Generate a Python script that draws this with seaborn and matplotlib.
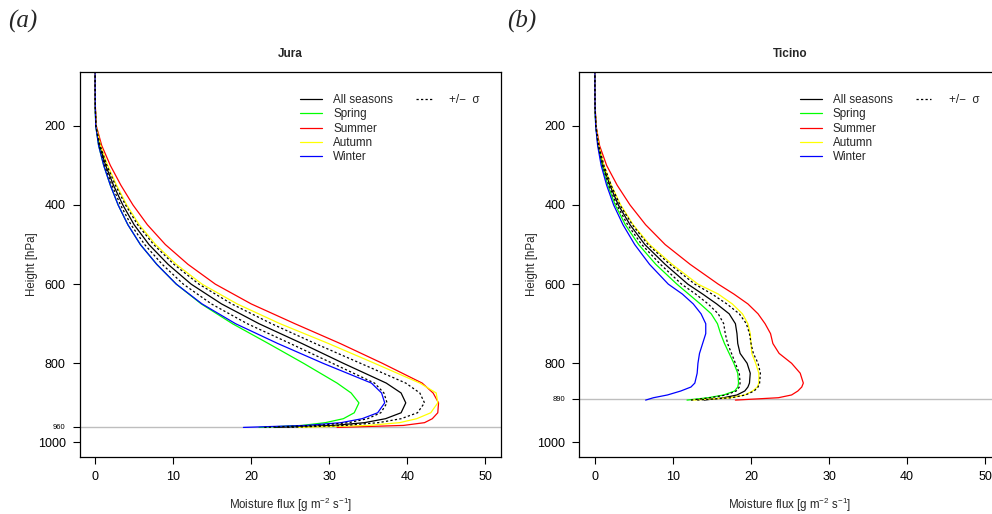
import matplotlib
matplotlib.use('Agg')
import matplotlib.pyplot as plt
from matplotlib.lines import Line2D
import seaborn as sns

# pressure levels [hPa]
jura_p = [50, 100, 150, 200, 250, 300, 350, 400, 450, 500, 550, 600, 650, 700,
          750, 800, 850, 875, 900, 925, 940, 950, 957, 962]
jura_all = [0, 0, 0.02, 0.1, 0.58, 1.35, 2.35, 3.55, 5.0, 6.9, 9.35, 12.3, 16.2, 21.0,
            26.5, 31.8, 37.3, 39.2, 39.8, 39.2, 37.2, 34.5, 30.5, 23.0]
jura_lo = [0, 0, 0.02, 0.09, 0.52, 1.22, 2.15, 3.25, 4.6, 6.35, 8.6, 11.3, 14.9, 19.5,
           25.0, 30.4, 35.8, 37.0, 37.4, 36.6, 34.9, 32.5, 28.5, 21.5]
jura_hi = [0, 0, 0.02, 0.11, 0.65, 1.5, 2.6, 3.9, 5.45, 7.5, 10.1, 13.3, 17.5, 22.6,
           28.2, 34.0, 39.8, 41.6, 42.2, 41.3, 39.2, 36.3, 32.0, 24.5]
jura_spring = [0, 0, 0.02, 0.08, 0.45, 1.1, 1.95, 2.95, 4.2, 5.8, 7.9, 10.4, 13.6, 17.6,
               22.2, 26.7, 31.0, 32.8, 33.8, 33.2, 31.8, 29.5, 26.5, 21.0]
jura_summer = [0, 0, 0.03, 0.15, 0.85, 1.95, 3.3, 4.85, 6.7, 9.0, 11.9, 15.4, 20.0, 25.6,
               31.4, 36.8, 41.9, 43.3, 44.0, 43.9, 43.2, 42.2, 39.5, 31.0]
jura_autumn = [0, 0, 0.02, 0.12, 0.7, 1.6, 2.75, 4.05, 5.65, 7.75, 10.4, 13.7, 18.2, 23.7,
               29.9, 35.8, 41.6, 43.7, 43.9, 43.0, 41.2, 39.0, 35.0, 26.0]
jura_winter = [0, 0, 0.02, 0.08, 0.45, 1.1, 1.95, 2.95, 4.2, 5.8, 7.9, 10.4, 13.7, 18.0,
               23.4, 29.2, 35.4, 36.7, 37.1, 36.2, 34.2, 31.5, 27.0, 19.0]

ticino_p = [50, 100, 150, 200, 250, 300, 350, 400, 450, 500, 550, 600, 625, 650,
            675, 700, 725, 750, 775, 800, 825, 850, 860, 870, 880, 887, 893]
ticino_all = [0, 0, 0.02, 0.12, 0.45, 1.05, 1.92, 3.0, 4.5, 6.4, 9.0, 11.9, 13.8, 15.6,
              17.2, 18.0, 18.2, 18.3, 18.6, 19.5, 19.9, 19.8, 19.6, 19.2, 18.2, 16.5, 14.0]
ticino_lo = [0, 0, 0.02, 0.11, 0.42, 0.98, 1.78, 2.8, 4.2, 6.0, 8.4, 11.1, 12.9, 14.5,
             15.8, 16.5, 16.7, 17.0, 17.5, 18.0, 18.5, 18.6, 18.5, 18.1, 16.8, 14.8, 12.3]
ticino_hi = [0, 0, 0.02, 0.13, 0.5, 1.15, 2.08, 3.2, 4.8, 6.8, 9.6, 12.8, 15.0, 16.9,
             18.5, 19.4, 19.8, 20.0, 20.3, 20.9, 21.2, 21.1, 20.9, 20.4, 19.3, 17.5, 13.0]
ticino_spring = [0, 0, 0.02, 0.1, 0.4, 0.9, 1.65, 2.6, 3.9, 5.6, 7.8, 10.5, 12.0, 13.5,
                 14.9, 15.7, 16.1, 16.6, 17.2, 17.8, 18.3, 18.4, 18.3, 17.9, 16.5, 14.5, 11.8]
ticino_summer = [0, 0, 0.03, 0.15, 0.6, 1.5, 2.85, 4.5, 6.5, 9.0, 12.2, 15.8, 17.8, 19.6,
                 20.9, 21.8, 22.5, 22.8, 23.6, 25.2, 26.3, 26.7, 26.5, 26.0, 25.2, 23.5, 18.0]
ticino_autumn = [0, 0, 0.02, 0.13, 0.5, 1.15, 2.1, 3.3, 4.9, 7.0, 9.9, 13.2, 15.8, 17.6,
                 18.9, 19.6, 19.9, 20.0, 20.1, 20.6, 21.0, 21.0, 20.8, 20.2, 19.2, 17.4, 12.5]
ticino_winter = [0, 0, 0.02, 0.1, 0.35, 0.8, 1.5, 2.4, 3.6, 5.1, 7.0, 9.4, 11.2, 12.6,
                 13.6, 14.2, 14.2, 13.8, 13.4, 13.2, 13.1, 12.8, 12.3, 11.0, 9.3, 7.5, 6.5]

season_names = ['All seasons', 'Spring', 'Summer', 'Autumn', 'Winter']
season_colors = ['black', '#00FF00', '#FF0000', '#FFFF00', '#0000FF']
sigma_label = '+/\u2212  \u03c3'

sns.set_style('ticks')
plt.rcParams['font.family'] = ['Liberation Sans', 'DejaVu Sans']
plt.rcParams['mathtext.fontset'] = 'custom'
plt.rcParams['mathtext.rm'] = 'Liberation Sans'
plt.rcParams['mathtext.it'] = 'Liberation Sans:italic'

W, H = 992, 514
DASH = (0, (1.8, 1.8))
fig = plt.figure(figsize=(W / 100, H / 100), dpi=100)
ax_w, ax_h = 421.5 / W, 384.7 / H
ax_a = fig.add_axes([79.5 / W, 1 - 456.7 / H, ax_w, ax_h])
ax_b = fig.add_axes([579.3 / W, 1 - 456.7 / H, ax_w, ax_h])


def draw_panel(ax, p, seasons, lo, hi, surface, title):
    ax.axhline(surface, color='#BEBEBE', lw=1.0, zorder=1)
    for vals in (lo, hi):
        sns.lineplot(x=vals, y=p, ax=ax, orient='y', sort=False, estimator=None,
                     color='black', lw=0.9, linestyle=DASH, zorder=3)
    for vals, col in zip(seasons, season_colors):
        sns.lineplot(x=vals, y=p, ax=ax, orient='y', sort=False, estimator=None,
                     color=col, lw=0.9, zorder=2)

    ax.set_xlim(-2, 52)
    ax.set_ylim(1036, 64)
    ax.set_xticks(range(0, 51, 10))
    ax.set_yticks([200, 400, 600, 800, surface, 1000])
    ax.set_yticklabels(['200', '400', '600', '800', str(surface), '1000'])
    ax.tick_params(direction='out', length=5, width=0.8, labelsize=9, pad=5, colors='black')
    ax.get_yticklabels()[4].set_fontsize(5.5)
    for s in ax.spines.values():
        s.set_linewidth(0.9)
        s.set_color('black')

    ax.set_title(title, fontweight='bold', fontsize=8.5, pad=10.5)
    ax.set_xlabel('Moisture flux [g m$^{\\mathrm{-2}}$ s$^{\\mathrm{-1}}$]', fontsize=8.3, va='center')
    ax.xaxis.set_label_coords(0.5, -(505 - 456.7) / 384.7)
    ax.set_ylabel('Height [hPa]', fontsize=8.3, va='center')
    ax.yaxis.set_label_coords((32 - 79.5) / 421.5, 0.5)

    handles = [Line2D([], [], color=c, lw=0.9) for c in season_colors]
    leg1 = ax.legend(handles, season_names, loc='upper left', bbox_to_anchor=(0.523, 0.943),
                     frameon=False, fontsize=8.4, handlelength=1.9, handletextpad=0.95,
                     labelspacing=0.2, borderpad=0, borderaxespad=0)
    ax.add_artist(leg1)
    sig = [Line2D([], [], color='black', lw=0.9, linestyle=DASH)]
    ax.legend(sig, [sigma_label], loc='upper left', bbox_to_anchor=(0.798, 0.943),
              frameon=False, fontsize=8.4, handlelength=1.35, handletextpad=1.5,
              borderpad=0, borderaxespad=0)


draw_panel(ax_a, jura_p, [jura_all, jura_spring, jura_summer, jura_autumn, jura_winter],
           jura_lo, jura_hi, 960, 'Jura')
draw_panel(ax_b, ticino_p, [ticino_all, ticino_spring, ticino_summer, ticino_autumn, ticino_winter],
           ticino_lo, ticino_hi, 890, 'Ticino')

fig.text(8 / W, 1 - 21 / H, '(a)', fontsize=18, family='Liberation Serif', style='italic', va='center')
fig.text(507 / W, 1 - 21 / H, '(b)', fontsize=18, family='Liberation Serif', style='italic', va='center')

fig.savefig('out.png', dpi=100)
